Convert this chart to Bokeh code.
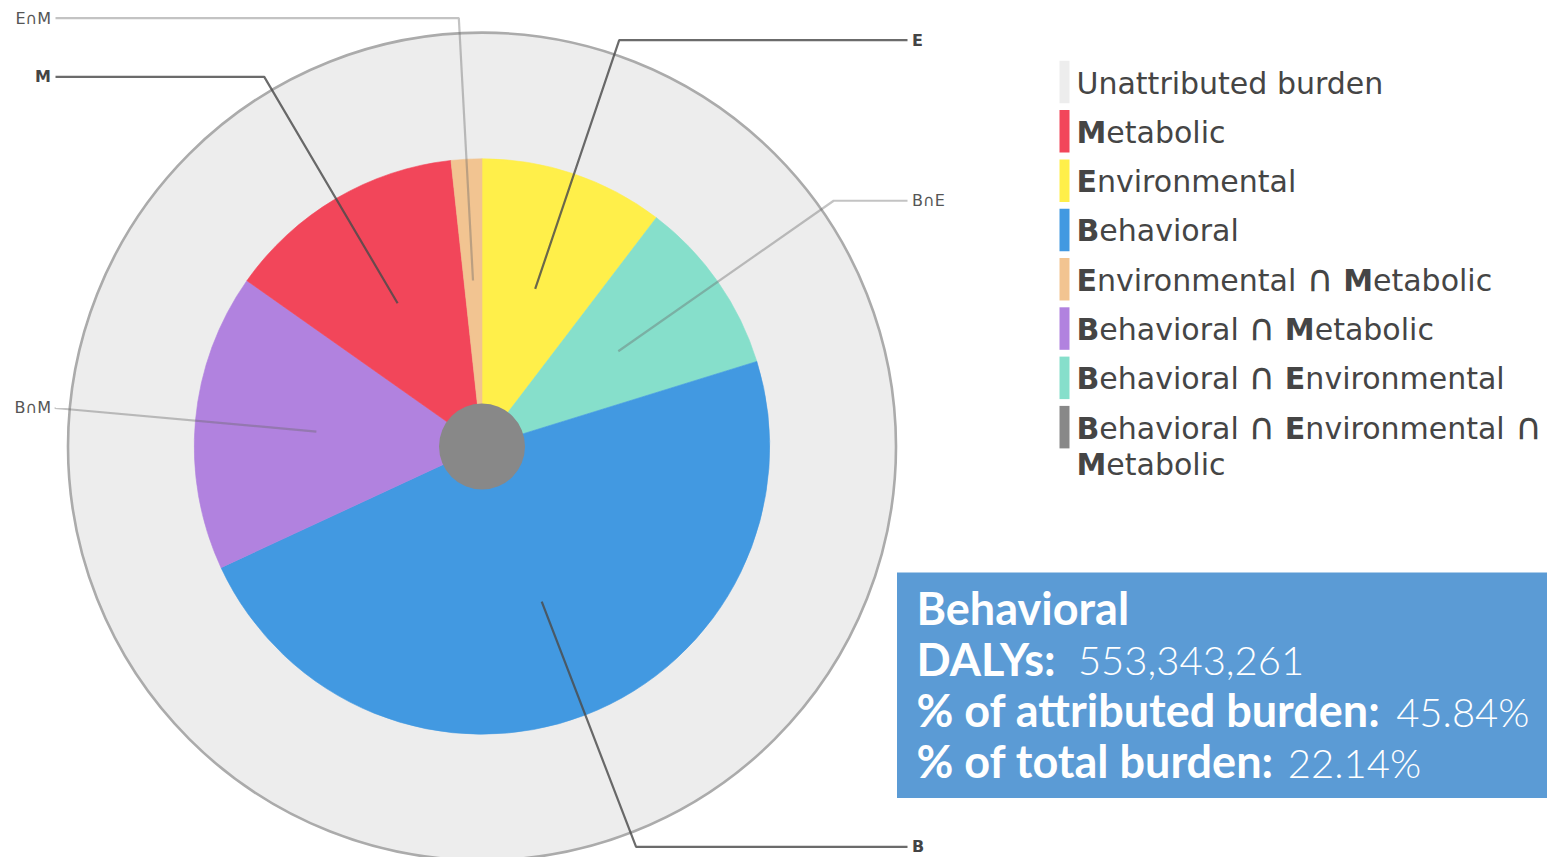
import glob, os, struct, math
from bokeh.plotting import figure
from bokeh.models import Range1d, ColumnDataSource
from bokeh.core.properties import value
from bokeh.embed import file_html
from bokeh.resources import INLINE

# ---------------- data ----------------
CATEGORIES = ["Unattributed burden", "Metabolic", "Environmental", "Behavioral",
              "Environmental ∩ Metabolic", "Behavioral ∩ Metabolic",
              "Behavioral ∩ Environmental", "Behavioral ∩ Environmental ∩ Metabolic"]
SHORT = ["U", "M", "E", "B", "E∩M", "B∩M", "B∩E", "B∩E∩M"]
DALYS = [1292170000, 156100000, 119800000, 553343261, 19900000, 193000000, 114000000, 50976000]
COLORS = ["#EDEDED", "#F2465A", "#FFEF4A", "#4299E1", "#F2C491", "#B182DF", "#86DFCB", "#888888"]
WEDGE_ORDER = ["E", "B∩E", "B", "B∩M", "M", "E∩M"]   # clockwise from 12 o'clock
CENTER_KEY = "B∩E∩M"
UNATTR_KEY = "U"
HIGHLIGHT = "B"

# ---------------- font metrics ----------------
def _find(names):
    roots = ["/usr/share/fonts", "/usr/local/share/fonts",
             os.path.expanduser("~/.fonts"), os.path.expanduser("~/.local/share/fonts")]
    for n in names:
        for r in roots:
            if os.path.isdir(r):
                hits = sorted(glob.glob(os.path.join(r, "**", n), recursive=True))
                if hits:
                    return hits[0]
    return None


class Metrics:
    def __init__(self, path, fallback):
        self.fallback = fallback
        self.ok = False
        if path:
            try:
                self._load(path)
                self.ok = True
            except Exception:
                self.ok = False

    def _load(self, path):
        d = open(path, "rb").read()
        self.d = d
        base = 0
        if d[:4] == b"ttcf":
            base = struct.unpack(">I", d[12:16])[0]
        n = struct.unpack(">H", d[base + 4:base + 6])[0]
        tb = {}
        for i in range(n):
            r = base + 12 + 16 * i
            tb[d[r:r + 4].decode("latin1")] = struct.unpack(">I", d[r + 8:r + 12])[0]
        self.upem = struct.unpack(">H", d[tb["head"] + 18:tb["head"] + 20])[0]
        nh = struct.unpack(">H", d[tb["hhea"] + 34:tb["hhea"] + 36])[0]
        h = tb["hmtx"]
        self.adv = [struct.unpack(">H", d[h + 4 * i:h + 4 * i + 2])[0] for i in range(nh)]
        c = tb["cmap"]
        ns = struct.unpack(">H", d[c + 2:c + 4])[0]
        subs = []
        for i in range(ns):
            pid, eid, off = struct.unpack(">HHI", d[c + 4 + 8 * i:c + 12 + 8 * i])
            fmt = struct.unpack(">H", d[c + off:c + off + 2])[0]
            subs.append((fmt, pid, eid, c + off))
        s12 = [s for s in subs if s[0] == 12]
        s4 = [s for s in subs if s[0] == 4 and s[1] in (0, 3)]
        if s12:
            o = s12[0][3]
            ng = struct.unpack(">I", d[o + 12:o + 16])[0]
            self.groups = [struct.unpack(">III", d[o + 16 + 12 * i:o + 28 + 12 * i]) for i in range(ng)]
            self.kind = 12
        else:
            o = s4[0][3]
            seg2 = struct.unpack(">H", d[o + 6:o + 8])[0]
            seg = seg2 // 2
            ends = struct.unpack(">%dH" % seg, d[o + 14:o + 14 + seg2])
            starts = struct.unpack(">%dH" % seg, d[o + 16 + seg2:o + 16 + 2 * seg2])
            deltas = struct.unpack(">%dh" % seg, d[o + 16 + 2 * seg2:o + 16 + 3 * seg2])
            ro_pos = o + 16 + 3 * seg2
            ros = struct.unpack(">%dH" % seg, d[ro_pos:ro_pos + seg2])
            self.f4 = (ends, starts, deltas, ros, ro_pos)
            self.kind = 4

    def gid(self, cp):
        if self.kind == 12:
            for s, e, g in self.groups:
                if s <= cp <= e:
                    return g + cp - s
            return 0
        ends, starts, deltas, ros, ro_pos = self.f4
        for i, e in enumerate(ends):
            if cp <= e:
                if cp < starts[i]:
                    return 0
                if ros[i] == 0:
                    return (cp + deltas[i]) & 0xFFFF
                addr = ro_pos + 2 * i + ros[i] + 2 * (cp - starts[i])
                g = struct.unpack(">H", self.d[addr:addr + 2])[0]
                return ((g + deltas[i]) & 0xFFFF) if g else 0
        return 0

    def width(self, text, size):
        if not self.ok:
            return len(text) * self.fallback * size
        tot = 0
        for ch in text:
            g = self.gid(ord(ch))
            tot += self.adv[min(g, len(self.adv) - 1)]
        return tot / self.upem * size


DJ_R = Metrics(_find(["DejaVuSans.ttf"]), 0.60)
DJ_B = Metrics(_find(["DejaVuSans-Bold.ttf"]), 0.68)
LA_B = Metrics(_find(["Lato-Bold.ttf", "Lato-Heavy.ttf"]), 0.53)
_light = _find(["Lato-Light.ttf"])
LA_L = Metrics(_light or _find(["Lato-Regular.ttf"]), 0.50)
LIGHT_FONT = "Lato Light, Lato" if _light else "Lato"

# ---------------- layout / style ----------------
W, H = 1547, 857
CX, CY = 481.5, 446.0          # screen px
R_OUT = 414.0
R_CENTER = 43.0
ANCHOR_FRAC = 0.578
ELBOW_R = 429.0
LINE_END_R, LINE_END_L = 907.0, 55.0
LABEL_GAP = 4.5
SMALL_FS = 16
CENTER_K = 0.36   # text is drawn centred on y: cap-centre sits ~0.36 em above the baseline

def Y(sy):
    return -sy

p = figure(width=W, height=H, x_range=Range1d(0, W), y_range=Range1d(-H, 0),
           output_backend="svg", toolbar_location=None, min_border=0,
           x_axis_location=None, y_axis_location=None)
p.grid.visible = False
p.outline_line_color = None
p.background_fill_color = "white"
p.border_fill_color = "white"

idx = {k: i for i, k in enumerate(SHORT)}
total = sum(DALYS)
attributed = total - DALYS[idx[UNATTR_KEY]]
R_IN = R_OUT * math.sqrt(attributed / total)

# outer (total burden) circle
p.circle(x=[CX], y=[Y(CY)], radius=R_OUT, fill_color=COLORS[idx[UNATTR_KEY]],
         line_color="#ABABAB", line_width=2.6)

# wedges
wsum = sum(DALYS[idx[k]] for k in WEDGE_ORDER)
starts, ends, cols, mids = [], [], [], []
acc = 0.0
for k in WEDGE_ORDER:
    frac = DALYS[idx[k]] / wsum
    t0 = acc * 2 * math.pi
    t1 = (acc + frac) * 2 * math.pi
    acc += frac
    starts.append(math.pi / 2 - t0)
    ends.append(math.pi / 2 - t1)
    cols.append(COLORS[idx[k]])
    mids.append((t0 + t1) / 2)
src = ColumnDataSource(dict(x=[CX] * len(WEDGE_ORDER), y=[Y(CY)] * len(WEDGE_ORDER),
                            s=starts, e=ends, c=cols))
p.wedge(x="x", y="y", radius=R_IN, start_angle="s", end_angle="e", direction="clock",
        fill_color="c", line_color="c", line_width=0.6, source=src)

# center circle
p.circle(x=[CX], y=[Y(CY)], radius=R_CENTER, fill_color=COLORS[idx[CENTER_KEY]], line_color=None)

# leader lines + labels
xs, ys, lc, la = [], [], [], []
lab = {"rx": [], "ry": [], "rt": [], "lx": [], "ly": [], "lt": []}
lab_b = {"rx": [], "ry": [], "rt": [], "lx": [], "ly": [], "lt": []}
for k, th in zip(WEDGE_ORDER, mids):
    ax = CX + ANCHOR_FRAC * R_IN * math.sin(th)
    ay = CY - ANCHOR_FRAC * R_IN * math.cos(th)
    ex = CX + ELBOW_R * math.sin(th)
    ey = CY - ELBOW_R * math.cos(th)
    right = ex > CX
    endx = LINE_END_R if right else LINE_END_L
    xs.append([ax, ex, endx])
    ys.append([Y(ay), Y(ey), Y(ey)])
    single = len(k) == 1
    lc.append("#4a4a4a" if single else "#6a6a6a")
    la.append(0.82 if single else 0.40)
    d = lab_b if single else lab
    if right:
        d["rx"].append(endx + LABEL_GAP); d["ry"].append(Y(ey)); d["rt"].append(k)
    else:
        d["lx"].append(endx - LABEL_GAP); d["ly"].append(Y(ey)); d["lt"].append(k)
p.multi_line(xs=xs, ys=ys, line_color=lc, line_alpha=la, line_width=2.2)
for d, style, color in ((lab, "normal", "#555555"), (lab_b, "bold", "#444444")):
    if d["rt"]:
        p.text(x=d["rx"], y=d["ry"], text=d["rt"], text_font=value("DejaVu Sans"),
               text_font_size="%dpx" % SMALL_FS, text_font_style=style, text_color=color,
               text_align="left", text_baseline="alphabetic")
    if d["lt"]:
        p.text(x=d["lx"], y=d["ly"], text=d["lt"], text_font=value("DejaVu Sans"),
               text_font_size="%dpx" % SMALL_FS, text_font_style=style, text_color=color,
               text_align="right", text_baseline="alphabetic")

# ---------------- legend ----------------
LEG_FS = 30.0
SYM_FS = 37.0
LEG_BAR_X, LEG_BAR_W = 1059.0, 10.0
LEG_TEXT_X = 1076.0
LEG_BASE0, LEG_STEP, LEG_LINE2 = 93.3, 49.3, 36.5
LEG_RIGHT = 1550.0
LEG_COLOR = "#454545"

reg = {"x": [], "y": [], "t": []}
bld = {"x": [], "y": [], "t": []}
sym = {"x": [], "y": [], "t": []}
bars = {"l": [], "r": [], "t": [], "b": [], "c": []}
space_w = DJ_R.width(" ", LEG_FS)
sizes = {"r": LEG_FS, "b": LEG_FS, "s": SYM_FS}
met = {"r": DJ_R, "b": DJ_B, "s": DJ_R}
row_y = LEG_BASE0
for i, name in enumerate(CATEGORIES):
    bold_initials = SHORT[i] != UNATTR_KEY
    bars["l"].append(LEG_BAR_X); bars["r"].append(LEG_BAR_X + LEG_BAR_W)
    bars["t"].append(Y(row_y - 33)); bars["b"].append(Y(row_y + 9.5)); bars["c"].append(COLORS[i])
    x = LEG_TEXT_X
    y = row_y
    for tok in name.split(" "):
        if tok == "∩":
            segs = [(tok, "s")]
        elif bold_initials:
            segs = [(tok[0], "b"), (tok[1:], "r")]
        else:
            segs = [(tok, "r")]
        tw = sum(met[kind].width(s, sizes[kind]) for s, kind in segs)
        if x > LEG_TEXT_X and x + tw > LEG_RIGHT:
            x = LEG_TEXT_X
            y += LEG_LINE2
        for s, kind in segs:
            dd = {"r": reg, "b": bld, "s": sym}[kind]
            # baseline -> centre position (the symbol is drawn larger, same baseline)
            yc = y - 0.346 * sizes[kind] if kind == "s" else y - CENTER_K * LEG_FS
            dd["x"].append(x); dd["y"].append(Y(yc)); dd["t"].append(s)
            x += met[kind].width(s, sizes[kind])
        x += space_w
    row_y += LEG_STEP

p.quad(left=bars["l"], right=bars["r"], top=bars["t"], bottom=bars["b"],
       fill_color=bars["c"], line_color=None)
p.text(x=reg["x"], y=reg["y"], text=reg["t"], text_font=value("DejaVu Sans"),
       text_font_size="%dpx" % LEG_FS, text_color=LEG_COLOR, text_baseline="alphabetic")
p.text(x=bld["x"], y=bld["y"], text=bld["t"], text_font=value("DejaVu Sans"),
       text_font_size="%dpx" % LEG_FS, text_font_style="bold", text_color=LEG_COLOR,
       text_baseline="alphabetic")
p.text(x=sym["x"], y=sym["y"], text=sym["t"], text_font=value("DejaVu Sans"),
       text_font_size="%dpx" % SYM_FS, text_color=LEG_COLOR, text_baseline="alphabetic")

# ---------------- info box ----------------
BOX_L, BOX_R, BOX_T, BOX_B = 896.5, 1547.0, 572.0, 797.5
BOX_COLOR = "#5B9BD5"
INFO_X = 916.0
INFO_BASE0, INFO_STEP = 624.0, 51.0
INFO_FS = 45.0
INFO_FS_L = 40.0
INFO_GAP = 12.0

hv = DALYS[idx[HIGHLIGHT]]
info_lines = [
    (CATEGORIES[idx[HIGHLIGHT]], ""),
    ("DALYs:", "{:,}".format(hv)),
    ("% of attributed burden:", "{:.2f}%".format(100.0 * hv / attributed)),
    ("% of total burden:", "{:.2f}%".format(100.0 * hv / total)),
]

p.quad(left=[BOX_L], right=[BOX_R], top=[Y(BOX_T)], bottom=[Y(BOX_B)],
       fill_color=BOX_COLOR, line_color=None)
ib = {"x": [], "y": [], "t": []}
ir = {"x": [], "y": [], "t": []}
for j, (bt, rt) in enumerate(info_lines):
    base = INFO_BASE0 + INFO_STEP * j
    ib["x"].append(INFO_X); ib["y"].append(Y(base - CENTER_K * INFO_FS)); ib["t"].append(bt)
    if rt:
        ir["x"].append(INFO_X + LA_B.width(bt, INFO_FS) + INFO_GAP)
        ir["y"].append(Y(base - CENTER_K * INFO_FS_L)); ir["t"].append(rt)
p.text(x=ib["x"], y=ib["y"], text=ib["t"], text_font=value("Lato"),
       text_font_size="%.1fpx" % INFO_FS, text_font_style="bold", text_color="white",
       text_baseline="alphabetic")
p.text(x=ir["x"], y=ir["y"], text=ir["t"], text_font=value(LIGHT_FONT),
       text_font_size="%.1fpx" % INFO_FS_L, text_color="white", text_baseline="alphabetic")

open("out.html", "w").write(file_html(p, INLINE))
